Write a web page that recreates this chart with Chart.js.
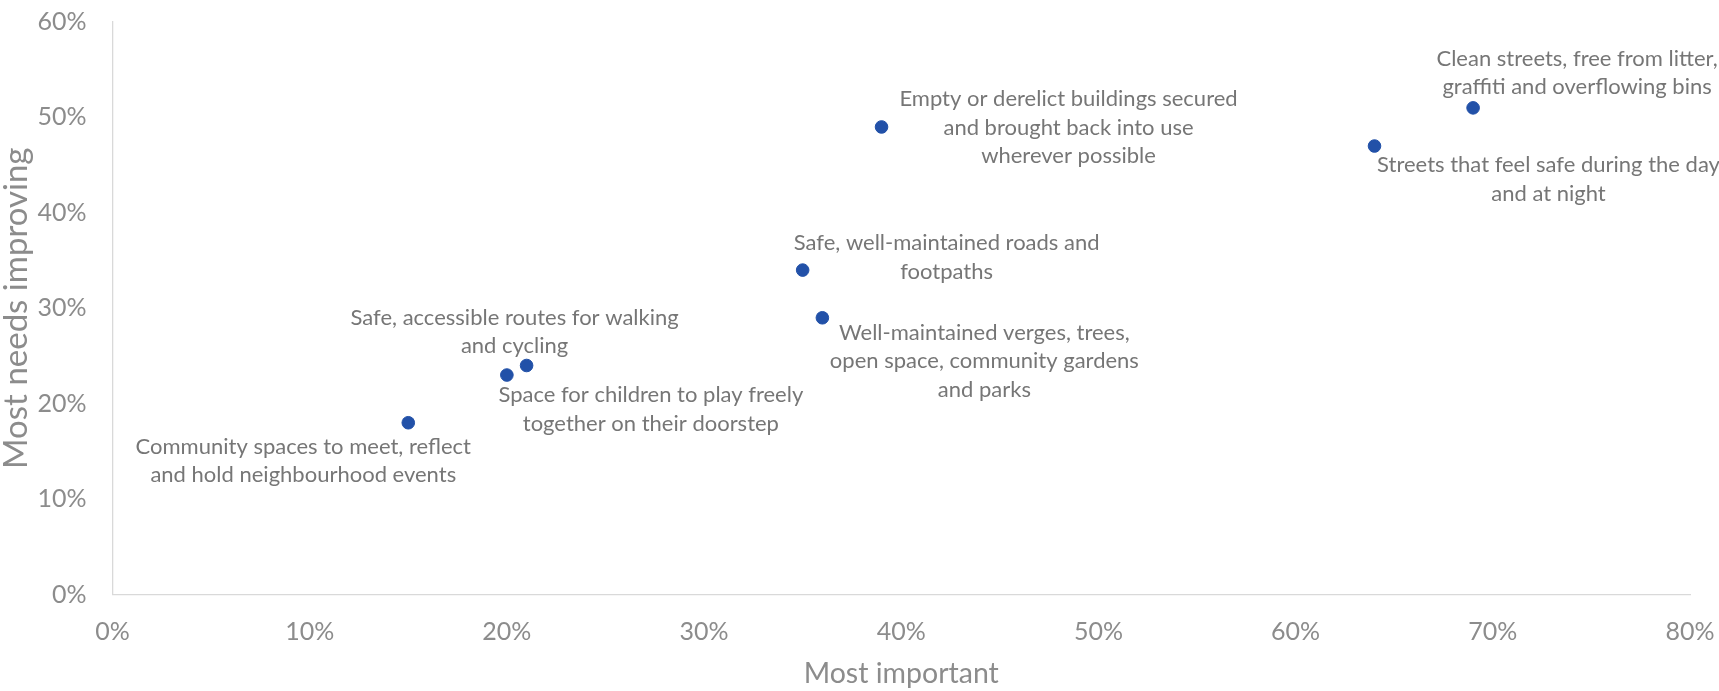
<!DOCTYPE html>
<html>
<head>
<meta charset="utf-8">
<script src="https://cdn.jsdelivr.net/npm/chart.js@4/dist/chart.umd.min.js"></script>
<style>
  html, body { margin: 0; padding: 0; background: #fff; }
  #chart { display: block; }
</style>
</head>
<body>
<canvas id="chart" width="1719" height="691"></canvas>
<script>
// Categories (data label text, one entry per line)
const categories = [
    ['Community spaces to meet, reflect', 'and hold neighbourhood events'],
    ['Space for children to play freely', 'together on their doorstep'],
    ['Safe, accessible routes for walking', 'and cycling'],
    ['Safe, well-maintained roads and', 'footpaths'],
    ['Well-maintained verges, trees,', 'open space, community gardens', 'and parks'],
    ['Empty or derelict buildings secured', 'and brought back into use', 'wherever possible'],
    ['Streets that feel safe during the day', 'and at night'],
    ['Clean streets, free from litter,', 'graffiti and overflowing bins']
];

// Series values (%)
const mostImportant = [15, 20, 21, 35, 36, 39, 64, 69];
const mostNeedsImproving = [18, 23, 24, 34, 29, 49, 47, 51];

// Axis ticks (%)
const xTicks = [0, 10, 20, 30, 40, 50, 60, 70, 80];
const yTicks = [0, 10, 20, 30, 40, 50, 60];

// Where each data label sits relative to its point (px): [dx, dy of first line]
const labelOffsets = [[-105, 24], [144, 20], [-12, -48], [144, -27], [162, 15], [187, -28], [174, 19], [104, -49]];

document.addEventListener('DOMContentLoaded', () => {
    const fontFamily = 'Lato, "Open Sans", sans-serif';
    const pointColor = '#2251a8';
    const tickColor = '#8c8c8c';
    const labelColor = '#767676';

    const points = mostImportant.map((x, i) => ({ x: x, y: mostNeedsImproving[i] }));

    const dataLabels = {
        id: 'dataLabels',
        afterDatasetsDraw(chart) {
            const ctx = chart.ctx;
            const meta = chart.getDatasetMeta(0);
            ctx.save();
            ctx.font = '22px ' + fontFamily;
            ctx.fillStyle = labelColor;
            ctx.textAlign = 'center';
            ctx.textBaseline = 'middle';
            meta.data.forEach((pt, i) => {
                const [dx, dy] = labelOffsets[i];
                categories[i].forEach((line, j) => {
                    ctx.fillText(line, pt.x + dx, pt.y + dy + j * 28.5);
                });
            });
            ctx.restore();
        }
    };

    new Chart(document.getElementById('chart'), {
        type: 'scatter',
        data: {
            datasets: [{
                label: 'Priorities',
                data: points,
                backgroundColor: pointColor,
                borderColor: pointColor,
                pointRadius: 6.3,
                pointHoverRadius: 6.3
            }]
        },
        options: {
            responsive: false,
            animation: false,
            layout: { padding: { top: 22, right: 29, bottom: 0, left: 0 } },
            plugins: {
                legend: { display: false },
                tooltip: { enabled: false }
            },
            scales: {
                x: {
                    type: 'linear',
                    min: xTicks[0],
                    max: xTicks[xTicks.length - 1],
                    afterBuildTicks: (scale) => { scale.ticks = xTicks.map(v => ({ value: v })); },
                    afterFit: (scale) => {
                        scale.height = 96.5;
                        scale.paddingLeft = 0;
                        scale.paddingRight = 0;
                    },
                    grid: { display: false, drawTicks: false },
                    border: { display: true, color: '#d9d9d9', width: 1.3 },
                    ticks: {
                        padding: 22,
                        color: tickColor,
                        font: { family: fontFamily, size: 25 },
                        callback: (v) => v + '%'
                    },
                    title: {
                        display: true,
                        text: 'Most important',
                        color: tickColor,
                        font: { family: fontFamily, size: 28.5 },
                        padding: 0
                    }
                },
                y: {
                    type: 'linear',
                    min: yTicks[0],
                    max: yTicks[yTicks.length - 1],
                    afterBuildTicks: (scale) => { scale.ticks = yTicks.map(v => ({ value: v })); },
                    afterFit: (scale) => {
                        scale.width = 112.5;
                        scale.paddingTop = 0;
                        scale.paddingBottom = 0;
                    },
                    grid: { display: false, drawTicks: false },
                    border: { display: true, color: '#d9d9d9', width: 1.3 },
                    ticks: {
                        padding: 26,
                        color: tickColor,
                        font: { family: fontFamily, size: 25 },
                        callback: (v) => v + '%'
                    },
                    title: {
                        display: true,
                        text: 'Most needs improving',
                        color: tickColor,
                        font: { family: fontFamily, size: 33, lineHeight: 1 },
                        padding: 0
                    }
                }
            }
        },
        plugins: [dataLabels]
    });
});
</script>
</body>
</html>
